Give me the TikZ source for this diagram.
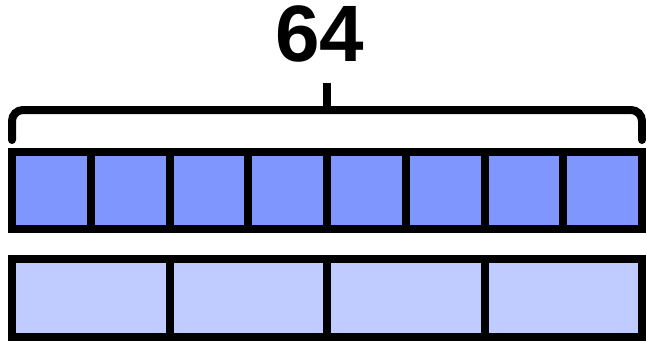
\documentclass[tikz,border=0pt]{standalone}
\usepackage{fontspec}
\setmainfont{Liberation Sans}
\usepackage{tikz}
\definecolor{cellblue}{RGB}{128,150,255}
\definecolor{halfblue}{RGB}{192,204,255}

\begin{document}
\begin{tikzpicture}[x=1pt, y=-1pt, line width=8pt]
    \useasboundingbox (0,0) rectangle (646,341);

    % Top bar with 8 cells
    \fill[cellblue] (12,152) rectangle (642,229);
    \foreach \i in {1,...,7} {
        \draw ({12+\i*78.75},152) -- ({12+\i*78.75},229);
    }
    \draw (12,152) rectangle (642,229);

    % Bottom bar with 4 cells
    \fill[halfblue] (12,259) rectangle (642,337);
    \foreach \i in {1,2,3} {
        \draw ({12+\i*157.5},259) -- ({12+\i*157.5},337);
    }
    \draw (12,259) rectangle (642,337);

    % Brace over the top bar
    \draw[line cap=round, rounded corners=11pt] (12,140) -- (12,110) -- (642,110) -- (642,140);
    \coordinate (tip) at (327,110);
    \draw (tip) -- ++(0,-27);

    % Total
    \node[font=\fontsize{80}{80}\selectfont\bfseries, inner sep=0pt] (total) at (319.5,33.5) {64};
\end{tikzpicture}
\end{document}
